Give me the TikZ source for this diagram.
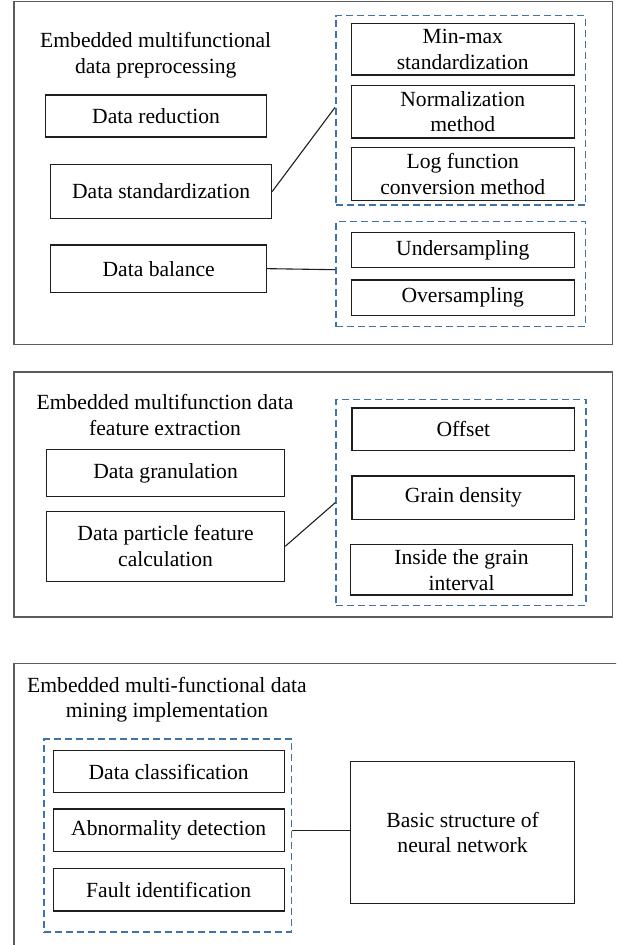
\documentclass[tikz,border=0pt]{standalone}
\usepackage{fontspec}
\setmainfont{Liberation Serif}
\definecolor{panelgray}{HTML}{5C5C5C}
\definecolor{boxline}{HTML}{1E1E1E}
\definecolor{groupblue}{HTML}{3F74A8}
\tikzset{
  panel/.style={draw=panelgray, line width=1.5pt, rectangle, inner sep=0pt},
  stepbox/.style={draw=boxline, line width=1.3pt, rectangle, inner sep=0pt, align=center,
    font=\fontsize{21.6}{25.7}\selectfont},
  groupbox/.style={draw=groupblue, line width=1.5pt, dash pattern=on 7pt off 4pt, rectangle, inner sep=0pt},
  heading/.style={align=center, inner sep=0pt, font=\fontsize{21.6}{25.7}\selectfont},
  link/.style={draw=boxline, line width=1.1pt}
}
\begin{document}
\begin{tikzpicture}[x=1pt, y=-1pt]
\useasboundingbox (0,0) rectangle (616,945);
\clip (0,0) rectangle (616,945);
\fill[white] (0,0) rectangle (616,945);

% ---- Panel 1: preprocessing
\node[panel, minimum width=598.9pt, minimum height=342.6pt] (p1) at (313.25,173) {};
\node[heading] (t1) at (155.7,55.5) {Embedded multifunctional\\data preprocessing};
\node[stepbox, minimum width=220.8pt, minimum height=42pt] (red) at (156.1,116) {Data reduction};
\node[stepbox, minimum width=220.8pt, minimum height=54.4pt] (std) at (161.2,191.5) {Data standardization};
\node[stepbox, minimum width=215.7pt, minimum height=47.3pt] (bal) at (158.65,268.65) {Data balance};
\node[groupbox, minimum width=249.5pt, minimum height=189.3pt] (g1) at (460.55,110.35) {};
\node[stepbox, minimum width=223.1pt, minimum height=51.7pt] (mm) at (462.75,49.15) {Min-max\\standardization};
\node[stepbox, minimum width=223.1pt, minimum height=52.7pt] (norm) at (462.75,111.65) {Normalization\\method};
\node[stepbox, minimum width=223.1pt, minimum height=52.6pt] (logf) at (462.75,174) {Log function\\conversion method};
\node[groupbox, minimum width=249.5pt, minimum height=105pt] (g2) at (460.55,274.2) {};
\node[stepbox, minimum width=223.1pt, minimum height=35.4pt] (under) at (462.75,250) {Undersampling};
\node[stepbox, minimum width=223.1pt, minimum height=35.3pt] (over) at (462.75,297.65) {Oversampling};
\draw[link] (std.east) -- ([yshift=3pt]g1.west);
\draw[link] (bal.east) -- ([yshift=4.5pt]g2.west);

% ---- Panel 2: feature extraction
\node[panel, minimum width=598.9pt, minimum height=245pt] (p2) at (313.25,494.5) {};
\node[heading] (t2) at (165,415) {Embedded multifunction data\\feature extraction};
\node[stepbox, minimum width=238.1pt, minimum height=47.4pt] (gran) at (165.55,473) {Data granulation};
\node[stepbox, minimum width=238.1pt, minimum height=70pt] (part) at (165.55,546.3) {Data particle feature\\calculation};
\node[groupbox, minimum width=249.9pt, minimum height=205.6pt] (g3) at (461.15,502.5) {};
\node[stepbox, minimum width=222.7pt, minimum height=42.7pt] (off) at (463.35,429.35) {Offset};
\node[stepbox, minimum width=222.7pt, minimum height=43.3pt] (gd) at (463.35,497.65) {Grain density};
\node[stepbox, minimum width=222.3pt, minimum height=50.3pt] (ins) at (461.55,569.85) {Inside the grain\\interval};
\draw[link] (part.east) -- (g3.west);

% ---- Panel 3: mining implementation (runs past the page edge)
\node[panel, minimum width=640pt, minimum height=330pt] (p3) at (333.8,828.5) {};
\node[heading] (t3) at (167,699.7) {Embedded multi-functional data\\mining implementation};
\node[groupbox, minimum width=247.2pt, minimum height=193pt] (g4) at (167.7,835.5) {};
\node[stepbox, minimum width=231pt, minimum height=42.4pt] (cls) at (168.7,771.5) {Data classification};
\node[stepbox, minimum width=231pt, minimum height=42.3pt] (abn) at (168.7,830.15) {Abnormality detection};
\node[stepbox, minimum width=231pt, minimum height=42.3pt] (fault) at (168.7,889.85) {Fault identification};
\node[stepbox, minimum width=224.3pt, minimum height=142.4pt] (basic) at (462.55,832.5) {Basic structure of\\neural network};
\draw[link] (g4.east |- abn.east) -- (basic.west |- abn.east);
\end{tikzpicture}
\end{document}
